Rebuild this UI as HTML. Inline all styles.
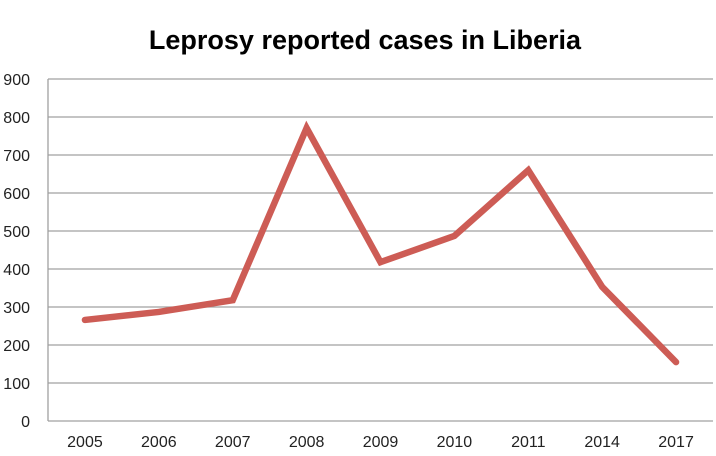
<!DOCTYPE html>
<html><head><meta charset="utf-8"><style>
body{margin:0;background:#fff;}
svg{display:block;font-family:"Liberation Sans",Carlito,sans-serif;}
</style></head><body>
<svg id="chart" width="716" height="456" viewBox="0 0 716 456">
<text x="365" y="49" text-anchor="middle" font-size="27" font-weight="bold" fill="#000">Leprosy reported cases in Liberia</text>
<g id="grid"></g><g id="ylabels"></g><g id="xlabels"></g><g id="series"></g>
</svg>
<script>
const categories=["2005","2006","2007","2008","2009","2010","2011","2014","2017"];
const cases=[266,287,318,771,418,487,660,353,155];
const yTicks=[0,100,200,300,400,500,600,700,800,900];
const L=48,R=713,T=79,B=421,yMax=900;
const ns="http://www.w3.org/2000/svg";
const bw=(R-L)/categories.length;
function xs(i){return L+bw*(i+0.5);}
function ys(v){return B-(v/yMax)*(B-T);}
function mk(t,a,p){const e=document.createElementNS(ns,t);for(const k in a)e.setAttribute(k,a[k]);p.appendChild(e);return e;}
const g=document.getElementById('grid'),yl=document.getElementById('ylabels'),xl=document.getElementById('xlabels'),s=document.getElementById('series');
yTicks.forEach(v=>{
 const l=mk('line',{x1:L,x2:R,y1:ys(v),y2:ys(v),stroke:'#a0a0a0','stroke-width':1.3},g);
 
 
 const t=mk('text',{x:30,y:ys(v)+6,'text-anchor':'end','font-size':16,fill:'#222'},yl);
 t.textContent=v;
 
 
});
const ax=mk('line',{x1:L,x2:L,y1:T,y2:B,stroke:'#a0a0a0','stroke-width':1.3},g);


categories.forEach((c,i)=>{
 const t=mk('text',{x:xs(i),y:447,'text-anchor':'middle','font-size':16,fill:'#222'},xl);
 t.textContent=c;
 
 
});
const pts=cases.map((v,i)=>xs(i)+','+ys(v)).join(' ');
const pl=mk('polyline',{points:pts,fill:'none',stroke:'#cd5c55','stroke-width':6.5,'stroke-linejoin':'miter','stroke-linecap':'round'},s);


</script>
</body></html>
